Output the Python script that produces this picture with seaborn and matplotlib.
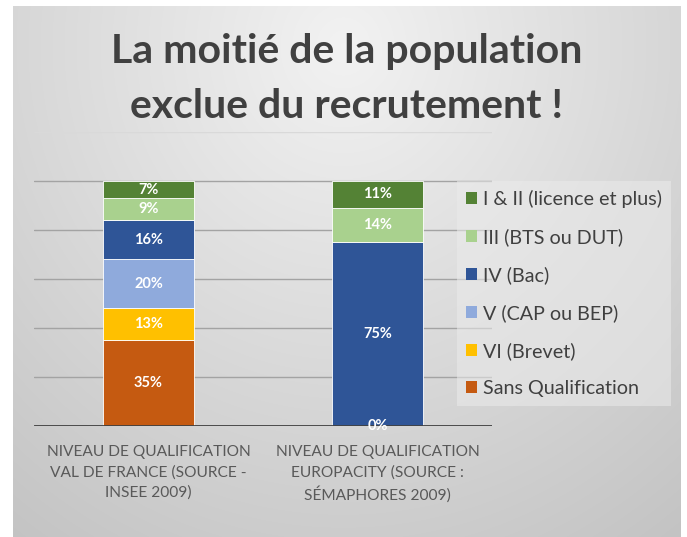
import numpy as np
import pandas as pd
import matplotlib
matplotlib.use("Agg")
from matplotlib import pyplot as plt
from matplotlib.patches import Patch
import seaborn as sns

# Data
groups = ["valdefrance", "europacity"]
group_labels = [
    "NIVEAU DE QUALIFICATION\nVAL DE FRANCE (SOURCE -\nINSEE 2009)",
    "NIVEAU DE QUALIFICATION\nEUROPACITY (SOURCE :\nSÉMAPHORES 2009)",
]
levels = [
    "Sans Qualification",
    "VI (Brevet)",
    "V (CAP ou BEP)",
    "IV (Bac)",
    "III (BTS ou DUT)",
    "I & II (licence et plus)",
]
val_de_france = [35, 13, 20, 16, 9, 7]
europacity = [0, 0, 0, 75, 14, 11]
level_colors = ["#c55a11", "#ffc000", "#8faadc", "#2f5597", "#a9d18e", "#548235"]
y_ticks = [0, 20, 40, 60, 80, 100, 120]

sns.set_theme(style="white")
plt.rcParams["font.family"] = ["Lato", "DejaVu Sans"]

W, H = 687, 537
fig = plt.figure(figsize=(W / 100, H / 100), dpi=100)
fig.patch.set_facecolor("white")

# gray panel with a soft radial gradient (background only)
bg = fig.add_axes([13 / W, 0, (681 - 13) / W, (537 - 6) / H], zorder=-5)
yy, xx = np.mgrid[0:531, 0:668]
dist = np.sqrt(((xx - 330) / 520.0) ** 2 + ((yy - 40) / 560.0) ** 2)
shade = np.clip(0.95 - 0.17 * dist, 0.76, 0.95)
bg.imshow(np.dstack([shade] * 3), aspect="auto", interpolation="bilinear")
bg.axis("off")

ax = fig.add_axes([34 / W, (537 - 426) / H, (492 - 34) / W, (426 - 132) / H])
ax.set_facecolor("none")

df = pd.DataFrame({"groupe": groups})
bottom = np.zeros(len(groups))
for i, lvl in enumerate(levels):
    vals = np.array([val_de_france[i], europacity[i]], dtype=float)
    df["val"] = vals
    sns.barplot(data=df, x="groupe", y="val", order=groups, color=level_colors[i],
                saturation=1, width=0.4, bottom=bottom, ax=ax, zorder=3,
                edgecolor="white", linewidth=0.6, errorbar=None)
    for j, v in enumerate(vals):
        if j == 0 or v > 0 or i == 0:
            ax.text(j, bottom[j] + v / 2, f"{int(v)}%", ha="center", va="center",
                    color="white", fontsize=10.5, fontweight="bold", zorder=5)
    bottom = bottom + vals

ax.set_xlim(-0.5, 1.5)
ax.set_ylim(0, 120)
ax.set_yticks(y_ticks)
ax.set_yticklabels([])
ax.tick_params(axis="y", length=0)
ax.yaxis.grid(True, color="#a3a3a3", linewidth=1)
ax.set_axisbelow(True)
# top gridline is barely visible in the reference
ax.get_ygridlines()[-1].set_color("#d9d9d9")
for s in ax.spines.values():
    s.set_visible(False)
ax.axhline(0, color="#404040", linewidth=2, zorder=4)

ax.set_xticks(range(len(groups)))
ax.set_xticklabels(group_labels, color="#595959", fontsize=11.2, linespacing=1.5)
ax.tick_params(axis="x", length=0, pad=14)
ax.set_xlabel("")
ax.set_ylabel("")

handles = [Patch(facecolor=level_colors[i], edgecolor="none") for i in range(len(levels))][::-1]
leg = fig.legend(handles, levels[::-1], loc="upper left",
                 bbox_to_anchor=(457 / W, 1 - 181 / H), frameon=True,
                 fontsize=14.2, labelcolor="#404040", handlelength=0.55,
                 handleheight=0.55, handletextpad=0.3, labelspacing=1.02,
                 borderpad=0.45, borderaxespad=0)
leg.get_frame().set_facecolor("#ebebeb")
leg.get_frame().set_alpha(0.55)
leg.get_frame().set_edgecolor("none")
leg.get_frame().set_boxstyle("square", pad=0)

fig.text(0.505, 1 - 51 / H, "La moitié de la population", ha="center", va="center",
         fontsize=29.5, fontweight="bold", color="#404040")
fig.text(0.505, 1 - 106 / H, "exclue du recrutement !", ha="center", va="center",
         fontsize=29.5, fontweight="bold", color="#404040")

fig.savefig("out.png", dpi=100)
